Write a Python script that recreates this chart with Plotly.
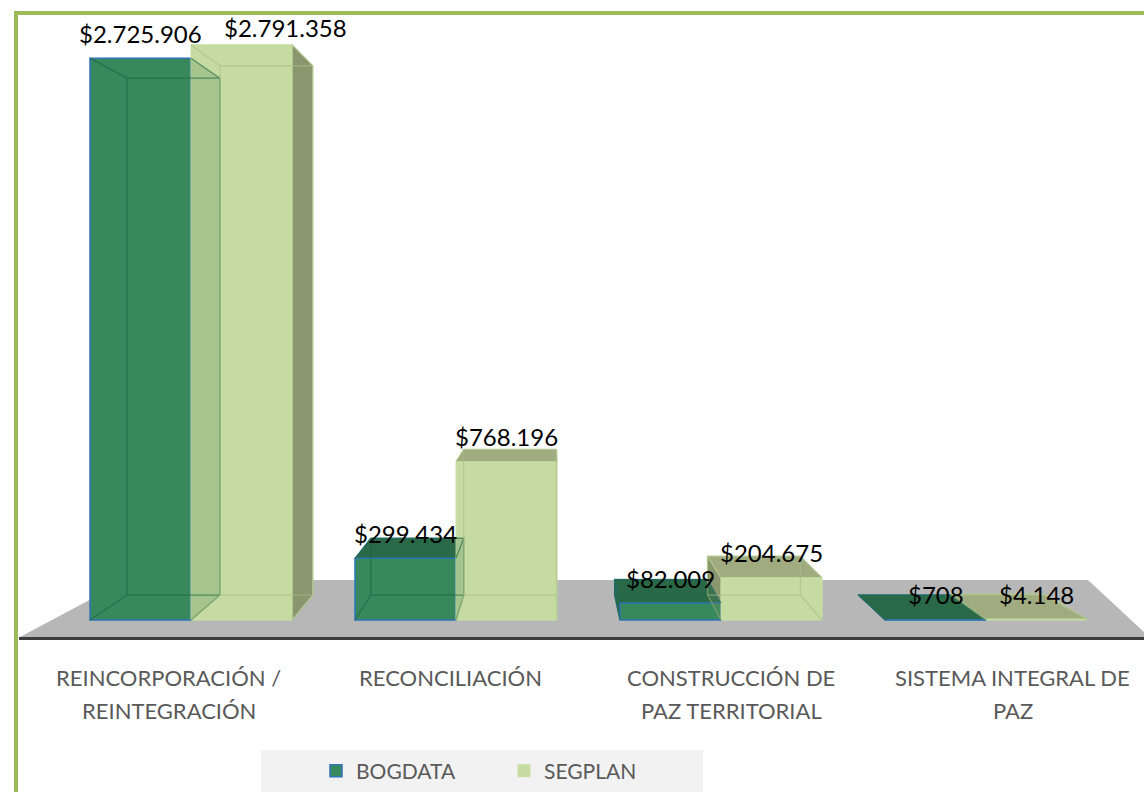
import plotly.graph_objects as go

# ---------------- data ----------------
CATEGORIES = ["REINCORPORACIÓN /<br>REINTEGRACIÓN", "RECONCILIACIÓN",
              "CONSTRUCCIÓN DE<br>PAZ TERRITORIAL", "SISTEMA INTEGRAL DE<br>PAZ"]
SERIES = ["BOGDATA", "SEGPLAN"]
BOGDATA = [2725906, 299434, 82009, 708]
SEGPLAN = [2791358, 768196, 204675, 4148]
VALUES = {"BOGDATA": BOGDATA, "SEGPLAN": SEGPLAN}

# ---------------- geometry / style ----------------
W, H = 1144, 792
ML, MR, MT, MB = 18, 0, 12, 148
PW, PH = W - ML - MR, H - MT - MB
GROUP0_PX, STEP_PX = 191, 265        # pixel centre of first group, group spacing
BASE_PX, UNITS_PER_PX = 620, 4852    # pixel row of value 0, value units per pixel
BAR_W = 101 / 265                    # bar width in category units


def dx(px):
    return (px - GROUP0_PX) / STEP_PX


def dy(py):
    return (BASE_PX - py) * UNITS_PER_PX


def pxp(px):
    return (px - ML) / PW


def pyp(py):
    return (H - MB - py) / PH


X_RANGE = [dx(ML), dx(W - MR)]
Y_RANGE = [dy(H - MB), dy(MT)]
VPX, VPY = dx(552), dy(308)   # perspective vanishing point
DEPTH = 0.92
LABEL_SPREAD = 1.062

STYLE = {
    "BOGDATA": dict(front="#37885C", top="#2A6A48", side="#2A6A48", line="#2E75B6",
                    inner="#1B6440", offset=-BAR_W, lw=1.5),
    "SEGPLAN": dict(front="#C5DBA1", top="#A2AC80", side="#8A966E", line="#C8E1A5",
                    inner="#A6BE86", offset=0.0, lw=1.0),
}
LABEL_NUDGE = {("SEGPLAN", 0): (44, 17)}
LABEL_FONT = dict(family="Lato", size=24, color="#000000")
CAT_FONT = dict(family="Lato", size=22, color="#595959")
GREEN_BORDER = "#9BBB59"


def fmt(v):
    return "$" + f"{v:,}".replace(",", ".")


def back(p):
    return (VPX + DEPTH * (p[0] - VPX), VPY + DEPTH * (p[1] - VPY))


def poly(pts):
    return "M " + " L ".join(f"{x},{y}" for x, y in pts) + " Z"


fig = go.Figure()
annotations = []

# floor
floor_shapes = []
floor_px = [(20, 637), (127, 580), (1088, 580), (1144, 632), (1144, 637)]
floor_shapes.append(dict(type="path", xref="x", yref="y", layer="below",
                         path=poly([(dx(a), dy(b)) for a, b in floor_px]),
                         fillcolor="#B7B7B7", line=dict(width=0)))
floor_shapes.append(dict(type="line", xref="x", yref="y", layer="below",
                         x0=dx(19), x1=dx(W), y0=dy(638.5), y1=dy(638.5),
                         line=dict(color="#3C3C3C", width=3)))

face_shapes = {s: [] for s in SERIES}
above = []
for s in SERIES:
    st = STYLE[s]
    vals = VALUES[s]
    fig.add_trace(go.Bar(
        name=s, x=list(range(len(vals))), y=vals, width=BAR_W, offset=st["offset"],
        marker=dict(color=st["front"], line=dict(color=st["line"], width=st["lw"])),
        hoverinfo="skip"))
    for i, v in enumerate(vals):
        x0 = i + st["offset"]
        x1 = x0 + BAR_W
        FL, FR, TR, TL = (x0, 0), (x1, 0), (x1, v), (x0, v)
        faces = []
        if VPX > x1:
            faces.append(([FR, TR, back(TR), back(FR)], st["side"]))
        if VPX < x0:
            faces.append(([FL, TL, back(TL), back(FL)], st["side"]))
        if v < VPY:
            faces.append(([TL, TR, back(TR), back(TL)], st["top"]))
        for pts, col in faces:
            face_shapes[s].append(dict(type="path", xref="x", yref="y", layer="below",
                                       path=poly(pts), fillcolor=col,
                                       line=dict(color=st["line"], width=1)))
            above.append(dict(type="path", xref="x", yref="y", layer="above",
                              path=poly(pts), fillcolor=col, opacity=0.2,
                              line=dict(width=0)))
        b = [back(p) for p in (FL, FR, TR, TL)]
        inner = poly(b) + "".join(
            f" M {p[0]},{p[1]} L {q[0]},{q[1]}" for p, q in zip((FL, FR, TR, TL), b))
        above.append(dict(type="path", xref="x", yref="y", layer="above",
                          path=inner, opacity=0.6,
                          line=dict(color=st["inner"], width=1.3)))
        nx, ny = LABEL_NUDGE.get((s, i), (0, 25))
        annotations.append(dict(x=x0 + BAR_W / 2, y=v, xref="x", yref="y",
                                text=fmt(v), showarrow=False, xshift=nx, yshift=ny,
                                yanchor="middle", font=LABEL_FONT))

# back series faces first, front series faces over them
shapes = floor_shapes + face_shapes["SEGPLAN"] + face_shapes["BOGDATA"] + above

# category labels (perspective-projected onto front edge)
for i, cat in enumerate(CATEGORIES):
    lx = VPX + (i - VPX) * LABEL_SPREAD
    for k, line in enumerate(cat.split("<br>")):
        annotations.append(dict(x=lx, y=pyp(677 + 33 * k), xref="x", yref="paper",
                                text=line, showarrow=False, yanchor="middle",
                                font=CAT_FONT))

# legend background
shapes.append(dict(type="rect", xref="paper", yref="paper", layer="below",
                   x0=pxp(261), x1=pxp(703), y0=pyp(800), y1=pyp(750),
                   fillcolor="#F2F2F2", line=dict(width=0)))
# green frame
shapes.append(dict(type="line", xref="paper", yref="paper",
                   x0=pxp(16), x1=pxp(16), y0=pyp(11), y1=pyp(810),
                   line=dict(color=GREEN_BORDER, width=4)))
shapes.append(dict(type="line", xref="paper", yref="paper",
                   x0=pxp(14), x1=pxp(1160), y0=pyp(13), y1=pyp(13),
                   line=dict(color=GREEN_BORDER, width=4)))

fig.update_layout(
    width=W, height=H,
    margin=dict(l=ML, r=MR, t=MT, b=MB),
    paper_bgcolor="white", plot_bgcolor="rgba(0,0,0,0)",
    barmode="overlay",
    xaxis=dict(visible=False, range=X_RANGE, fixedrange=True),
    yaxis=dict(visible=False, range=Y_RANGE, fixedrange=True),
    shapes=shapes, annotations=annotations,
    showlegend=True,
    legend=dict(orientation="h", x=pxp(316), xanchor="left", y=pyp(771), yanchor="middle",
                bgcolor="rgba(0,0,0,0)", font=dict(family="Lato", size=21, color="#595959"),
                entrywidth=143, entrywidthmode="pixels", traceorder="normal"),
)

fig.write_html("out.html", config={"displayModeBar": False},
               post_script="document.body.style.margin='0px';document.body.style.overflow='hidden';")
